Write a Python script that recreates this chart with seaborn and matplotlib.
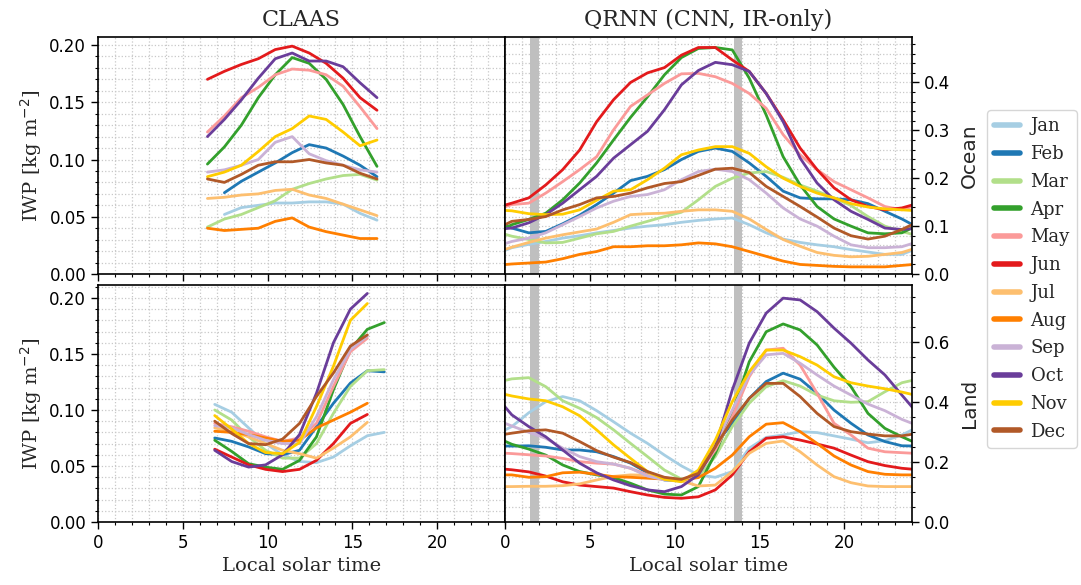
import numpy as np
import pandas as pd
import matplotlib
matplotlib.use("Agg")
import matplotlib.pyplot as plt
import seaborn as sns

months = ["Jan", "Feb", "Mar", "Apr", "May", "Jun",
          "Jul", "Aug", "Sep", "Oct", "Nov", "Dec"]
month_colors = ["#a6cee3", "#1f78b4", "#b2df8a", "#33a02c", "#fb9a99", "#e31a1c",
                "#fdbf6f", "#ff7f00", "#cab2d6", "#6a3d9a", "#ffcc00", "#b15928"]

nan = np.nan

# CLAAS, hourly, local solar time
claas_ocean_hours = [6.45, 7.45, 8.45, 9.45, 10.45, 11.45, 12.45, 13.45, 14.45, 15.45, 16.45]
claas_land_hours = [6.88, 7.88, 8.88, 9.88, 10.88, 11.88, 12.88, 13.88, 14.88, 15.88, 16.88]

claas_ocean = {
    "Jan": [nan, 0.052, 0.058, 0.060, 0.062, 0.062, 0.063, 0.063, 0.061, 0.053, 0.047],
    "Feb": [nan, 0.071, 0.081, 0.089, 0.097, 0.106, 0.113, 0.110, 0.103, 0.095, 0.085],
    "Mar": [0.041, 0.048, 0.052, 0.058, 0.064, 0.074, 0.079, 0.083, 0.086, 0.087, 0.082],
    "Apr": [0.096, 0.111, 0.130, 0.154, 0.174, 0.189, 0.184, 0.170, 0.148, 0.120, 0.094],
    "May": [0.124, 0.138, 0.154, 0.163, 0.174, 0.179, 0.178, 0.174, 0.164, 0.146, 0.127],
    "Jun": [0.170, 0.177, 0.183, 0.188, 0.196, 0.199, 0.193, 0.184, 0.171, 0.154, 0.143],
    "Jul": [0.066, 0.067, 0.069, 0.070, 0.073, 0.074, 0.069, 0.066, 0.061, 0.056, 0.051],
    "Aug": [0.040, 0.038, 0.039, 0.040, 0.046, 0.049, 0.041, 0.037, 0.034, 0.031, 0.031],
    "Sep": [0.089, 0.091, 0.095, 0.100, 0.115, 0.120, 0.105, 0.099, 0.095, 0.091, 0.089],
    "Oct": [0.120, 0.135, 0.152, 0.171, 0.188, 0.193, 0.186, 0.186, 0.181, 0.167, 0.154],
    "Nov": [0.085, 0.089, 0.095, 0.107, 0.120, 0.127, 0.138, 0.135, 0.124, 0.112, 0.117],
    "Dec": [0.083, 0.080, 0.087, 0.095, 0.098, 0.098, 0.100, 0.097, 0.095, 0.088, 0.083],
}

claas_land = {
    "Jan": [0.105, 0.098, 0.084, 0.070, 0.060, 0.054, 0.053, 0.058, 0.068, 0.077, 0.080],
    "Feb": [0.075, 0.072, 0.067, 0.061, 0.060, 0.064, 0.085, 0.106, 0.124, 0.135, 0.134],
    "Mar": [0.100, 0.091, 0.076, 0.064, 0.057, 0.057, 0.070, 0.097, 0.121, 0.135, 0.136],
    "Apr": [0.073, 0.063, 0.052, 0.049, 0.047, 0.055, 0.076, 0.118, 0.154, 0.172, 0.178],
    "May": [0.088, 0.085, 0.081, 0.076, 0.072, 0.075, 0.088, 0.121, 0.152, 0.164, nan],
    "Jun": [0.065, 0.058, 0.051, 0.047, 0.045, 0.047, 0.055, 0.070, 0.088, 0.096, nan],
    "Jul": [0.084, 0.081, 0.076, 0.070, 0.064, 0.061, 0.057, 0.066, 0.076, 0.089, nan],
    "Aug": [0.081, 0.080, 0.078, 0.075, 0.072, 0.073, 0.084, 0.091, 0.098, 0.106, nan],
    "Sep": [0.086, 0.084, 0.078, 0.073, 0.070, 0.070, 0.094, 0.127, 0.154, 0.166, nan],
    "Oct": [0.064, 0.054, 0.049, 0.051, 0.060, 0.078, 0.115, 0.160, 0.190, 0.204, nan],
    "Nov": [0.095, 0.083, 0.070, 0.062, 0.061, 0.071, 0.103, 0.139, 0.180, 0.195, nan],
    "Dec": [0.090, 0.079, 0.070, 0.069, 0.074, 0.088, 0.112, 0.133, 0.157, 0.167, nan],
}

# QRNN (CNN, IR-only), hourly from 0.4 to 23.4 local solar time
qrnn_hours = [0.4, 1.4, 2.4, 3.4, 4.4, 5.4, 6.4, 7.4, 8.4, 9.4, 10.4, 11.4,
              12.4, 13.4, 14.4, 15.4, 16.4, 17.4, 18.4, 19.4, 20.4, 21.4, 22.4, 23.4]

qrnn_ocean = {
    "Jan": [0.055, 0.062, 0.068, 0.075, 0.080, 0.086, 0.091, 0.096, 0.100, 0.103, 0.108, 0.112,
            0.115, 0.117, 0.103, 0.086, 0.073, 0.066, 0.061, 0.057, 0.051, 0.046, 0.041, 0.041],
    "Feb": [0.096, 0.086, 0.089, 0.105, 0.123, 0.145, 0.169, 0.195, 0.204, 0.218, 0.239, 0.256,
            0.263, 0.256, 0.232, 0.204, 0.173, 0.159, 0.157, 0.157, 0.155, 0.147, 0.131, 0.115],
    "Mar": [0.079, 0.072, 0.065, 0.066, 0.075, 0.084, 0.089, 0.100, 0.110, 0.120, 0.129, 0.155,
            0.183, 0.200, 0.211, 0.214, 0.202, 0.186, 0.173, 0.159, 0.143, 0.120, 0.100, 0.089],
    "Apr": [0.103, 0.114, 0.127, 0.155, 0.190, 0.232, 0.280, 0.327, 0.370, 0.416, 0.452, 0.471,
            0.473, 0.468, 0.409, 0.332, 0.245, 0.186, 0.141, 0.115, 0.100, 0.086, 0.084, 0.086],
    "May": [0.145, 0.148, 0.169, 0.193, 0.218, 0.245, 0.301, 0.350, 0.374, 0.398, 0.418, 0.419,
            0.412, 0.398, 0.377, 0.346, 0.291, 0.249, 0.218, 0.193, 0.176, 0.159, 0.141, 0.134],
    "Jun": [0.148, 0.159, 0.186, 0.218, 0.259, 0.318, 0.364, 0.400, 0.420, 0.431, 0.457, 0.473,
            0.473, 0.447, 0.423, 0.377, 0.322, 0.263, 0.218, 0.180, 0.155, 0.141, 0.134, 0.138],
    "Jul": [0.056, 0.066, 0.075, 0.082, 0.088, 0.094, 0.108, 0.124, 0.126, 0.127, 0.131, 0.134,
            0.134, 0.131, 0.115, 0.093, 0.072, 0.058, 0.045, 0.039, 0.036, 0.037, 0.041, 0.045],
    "Aug": [0.021, 0.023, 0.025, 0.032, 0.041, 0.047, 0.057, 0.057, 0.059, 0.059, 0.061, 0.065,
            0.063, 0.057, 0.047, 0.037, 0.027, 0.020, 0.018, 0.016, 0.015, 0.015, 0.015, 0.018],
    "Sep": [0.068, 0.075, 0.086, 0.103, 0.120, 0.138, 0.152, 0.162, 0.166, 0.176, 0.197, 0.214,
            0.219, 0.214, 0.197, 0.169, 0.138, 0.115, 0.100, 0.079, 0.061, 0.055, 0.055, 0.057],
    "Oct": [0.096, 0.107, 0.124, 0.148, 0.176, 0.204, 0.242, 0.270, 0.298, 0.343, 0.395, 0.425,
            0.442, 0.437, 0.423, 0.377, 0.318, 0.242, 0.190, 0.155, 0.131, 0.114, 0.096, 0.093],
    "Nov": [0.132, 0.126, 0.124, 0.125, 0.134, 0.154, 0.173, 0.176, 0.197, 0.221, 0.249, 0.259,
            0.266, 0.266, 0.252, 0.224, 0.200, 0.183, 0.169, 0.159, 0.147, 0.140, 0.136, 0.134],
    "Dec": [0.110, 0.114, 0.120, 0.134, 0.145, 0.159, 0.162, 0.169, 0.180, 0.189, 0.193, 0.206,
            0.219, 0.221, 0.212, 0.183, 0.162, 0.141, 0.119, 0.096, 0.080, 0.073, 0.079, 0.093],
}

qrnn_land = {
    "Jan": [0.318, 0.364, 0.401, 0.418, 0.404, 0.371, 0.334, 0.296, 0.262, 0.223, 0.187, 0.157,
            0.149, 0.168, 0.246, 0.282, 0.290, 0.301, 0.298, 0.287, 0.276, 0.264, 0.271, 0.290],
    "Feb": [0.253, 0.254, 0.249, 0.240, 0.240, 0.234, 0.218, 0.196, 0.164, 0.140, 0.137, 0.162,
            0.257, 0.329, 0.412, 0.468, 0.496, 0.476, 0.429, 0.373, 0.329, 0.290, 0.268, 0.254],
    "Mar": [0.477, 0.481, 0.451, 0.404, 0.379, 0.348, 0.307, 0.262, 0.218, 0.173, 0.143, 0.151,
            0.218, 0.318, 0.396, 0.451, 0.471, 0.453, 0.423, 0.404, 0.399, 0.401, 0.434, 0.464],
    "Apr": [0.259, 0.243, 0.223, 0.190, 0.168, 0.157, 0.148, 0.129, 0.107, 0.093, 0.090, 0.118,
            0.229, 0.362, 0.534, 0.634, 0.660, 0.640, 0.590, 0.516, 0.451, 0.362, 0.312, 0.284],
    "May": [0.228, 0.224, 0.220, 0.212, 0.201, 0.196, 0.193, 0.179, 0.157, 0.142, 0.140, 0.162,
            0.240, 0.351, 0.484, 0.573, 0.579, 0.523, 0.429, 0.329, 0.290, 0.246, 0.234, 0.231],
    "Jun": [0.174, 0.167, 0.153, 0.134, 0.123, 0.118, 0.113, 0.101, 0.090, 0.082, 0.079, 0.084,
            0.107, 0.157, 0.234, 0.279, 0.284, 0.273, 0.260, 0.246, 0.223, 0.201, 0.188, 0.179],
    "Jul": [0.118, 0.119, 0.119, 0.121, 0.127, 0.140, 0.152, 0.157, 0.156, 0.148, 0.137, 0.120,
            0.123, 0.168, 0.229, 0.262, 0.270, 0.234, 0.190, 0.151, 0.131, 0.120, 0.118, 0.118],
    "Aug": [0.157, 0.149, 0.151, 0.164, 0.166, 0.159, 0.151, 0.149, 0.146, 0.143, 0.140, 0.148,
            0.179, 0.223, 0.284, 0.326, 0.331, 0.301, 0.262, 0.220, 0.190, 0.168, 0.159, 0.157],
    "Sep": [0.320, 0.299, 0.279, 0.246, 0.218, 0.201, 0.193, 0.179, 0.153, 0.140, 0.138, 0.162,
            0.262, 0.373, 0.490, 0.557, 0.562, 0.529, 0.490, 0.453, 0.423, 0.393, 0.371, 0.342],
    "Oct": [0.357, 0.318, 0.284, 0.240, 0.196, 0.164, 0.140, 0.121, 0.107, 0.101, 0.118, 0.157,
            0.251, 0.440, 0.596, 0.696, 0.746, 0.740, 0.701, 0.646, 0.596, 0.540, 0.490, 0.423],
    "Nov": [0.420, 0.410, 0.404, 0.384, 0.354, 0.307, 0.257, 0.212, 0.168, 0.142, 0.134, 0.173,
            0.273, 0.401, 0.501, 0.573, 0.573, 0.551, 0.523, 0.484, 0.464, 0.453, 0.444, 0.433],
    "Dec": [0.296, 0.304, 0.307, 0.296, 0.268, 0.238, 0.216, 0.198, 0.168, 0.149, 0.142, 0.162,
            0.251, 0.340, 0.412, 0.462, 0.462, 0.418, 0.362, 0.318, 0.301, 0.293, 0.287, 0.287],
}

gap_spans = [(1.5, 2.0), (13.5, 14.0)]


def long_frame(hours, table, wrap=False):
    rows = []
    for month in months:
        h = list(hours)
        v = list(table[month])
        if wrap:
            # diurnal cycle: repeat the ends so the curve runs across the whole day
            h = [h[-1] - 24] + h + [h[0] + 24]
            v = [v[-1]] + v + [v[0]]
        for hh, vv in zip(h, v):
            if not np.isnan(vv):
                rows.append({"hour": hh, "iwp": vv, "month": month})
    return pd.DataFrame(rows)


frames = [
    [long_frame(claas_ocean_hours, claas_ocean), long_frame(qrnn_hours, qrnn_ocean, wrap=True)],
    [long_frame(claas_land_hours, claas_land), long_frame(qrnn_hours, qrnn_land, wrap=True)],
]

sns.set_theme(style="ticks")
plt.rcParams["font.family"] = ["DejaVu Sans"]
plt.rcParams["xtick.labelsize"] = 12
plt.rcParams["ytick.labelsize"] = 12
serif = "DejaVu Serif"

fig, axes = plt.subplots(2, 2, figsize=(10.81, 5.85), dpi=100, sharex=True)
fig.subplots_adjust(left=0.0907, right=0.8437, bottom=0.1077, top=0.9368,
                    wspace=0.0, hspace=0.046)

ylims = [[0.207, 0.495], [0.2116, 0.79]]
row_names = ["Ocean", "Land"]

for r in range(2):
    for c in range(2):
        ax = axes[r, c]
        if c == 1:
            for a, b in gap_spans:
                ax.axvspan(a, b, color="#bfbfbf", lw=0, zorder=1)
        sns.lineplot(data=frames[r][c], x="hour", y="iwp", hue="month",
                     hue_order=months, palette=month_colors, estimator=None,
                     lw=2, ax=ax, legend=(r == 0 and c == 0), zorder=2)
        ax.set_xlim(0, 24)
        ax.set_ylim(0, ylims[r][c])
        ax.minorticks_on()
        ax.grid(which="both", ls=":", color="#c8c8c8", lw=0.9)
        for s in ax.spines.values():
            s.set_color("black")
            s.set_linewidth(1.2)
        ax.tick_params(which="both", direction="out", color="black", labelcolor="black")
        ax.tick_params(which="major", length=5, width=1)
        ax.tick_params(which="minor", length=2.5, width=0.8)
        ax.set_xlabel("")
        if c == 0:
            ax.set_ylabel("IWP [kg m$^{-2}$]", fontsize=14, family=serif)
        else:
            ax.yaxis.tick_right()
            ax.yaxis.set_label_position("right")
            ax.set_ylabel(row_names[r], fontsize=14.5, labelpad=7)
        if r == 1:
            ax.set_xlabel("Local solar time", fontsize=14, family=serif)

axes[0, 0].set_title("CLAAS", fontsize=16, family=serif, pad=8)
axes[0, 1].set_title("QRNN (CNN, IR-only)", fontsize=16, family=serif, pad=8)

handles, labels = axes[0, 0].get_legend_handles_labels()
axes[0, 0].get_legend().remove()
leg = fig.legend(handles, labels, loc="center right", bbox_to_anchor=(0.9963, 0.523),
                 borderaxespad=0.0, prop={"family": serif, "size": 13},
                 handlelength=1.4, handletextpad=0.6, borderpad=0.4, labelspacing=0.54,
                 frameon=True, edgecolor="#cccccc", fancybox=True)
for line in leg.get_lines():
    line.set_linewidth(4)

fig.savefig("out.png", dpi=100)
